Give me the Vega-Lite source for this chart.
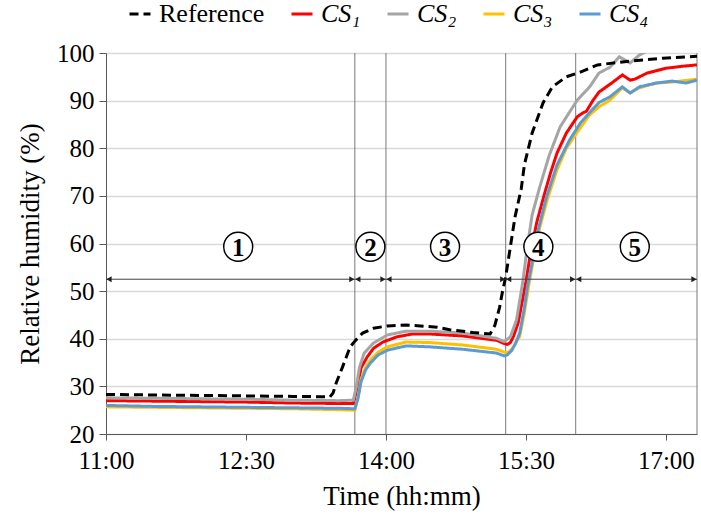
{
  "$schema": "https://vega.github.io/schema/vega-lite/v6.json",
  "width": 591,
  "height": 381,
  "autosize": {"type": "none"},
  "padding": {"left": 106, "top": 53, "right": 4, "bottom": 85},
  "background": "white",
  "config": {
    "view": {"stroke": null},
    "font": "Liberation Serif",
    "mark": {"invalid": null},
    "axis": {
      "labelFont": "Liberation Serif",
      "titleFont": "Liberation Serif",
      "labelColor": "#000000",
      "titleColor": "#000000",
      "titleFontWeight": "normal",
      "labelFontSize": 25,
      "titleFontSize": 27,
      "domainColor": "#595959",
      "tickColor": "#595959"
    }
  },
  "datasets": {
    "lines": [
      {"s": "CS₁", "t": "2020-01-01T11:00", "v": 27.0}, {"s": "CS₁", "t": "2020-01-01T11:30", "v": 26.9}, {"s": "CS₁", "t": "2020-01-01T12:00", "v": 26.8}, {"s": "CS₁", "t": "2020-01-01T12:30", "v": 26.7}, {"s": "CS₁", "t": "2020-01-01T13:00", "v": 26.5}, {"s": "CS₁", "t": "2020-01-01T13:30", "v": 26.4}, {"s": "CS₁", "t": "2020-01-01T13:39", "v": 26.4}, {"s": "CS₁", "t": "2020-01-01T13:42", "v": 30.3}, {"s": "CS₁", "t": "2020-01-01T13:44", "v": 33.9}, {"s": "CS₁", "t": "2020-01-01T13:48", "v": 36.2}, {"s": "CS₁", "t": "2020-01-01T13:52", "v": 38.0}, {"s": "CS₁", "t": "2020-01-01T13:58", "v": 39.3}, {"s": "CS₁", "t": "2020-01-01T14:07", "v": 40.4}, {"s": "CS₁", "t": "2020-01-01T14:17", "v": 41.0}, {"s": "CS₁", "t": "2020-01-01T14:28", "v": 41.0}, {"s": "CS₁", "t": "2020-01-01T14:49", "v": 40.6}, {"s": "CS₁", "t": "2020-01-01T15:11", "v": 39.7}, {"s": "CS₁", "t": "2020-01-01T15:16", "v": 39.0}, {"s": "CS₁", "t": "2020-01-01T15:18", "v": 38.8}, {"s": "CS₁", "t": "2020-01-01T15:20", "v": 39.2}, {"s": "CS₁", "t": "2020-01-01T15:22", "v": 40.5}, {"s": "CS₁", "t": "2020-01-01T15:25", "v": 43.3}, {"s": "CS₁", "t": "2020-01-01T15:28", "v": 48.5}, {"s": "CS₁", "t": "2020-01-01T15:30", "v": 52.0}, {"s": "CS₁", "t": "2020-01-01T15:33", "v": 58.0}, {"s": "CS₁", "t": "2020-01-01T15:37", "v": 64.5}, {"s": "CS₁", "t": "2020-01-01T15:42", "v": 70.5}, {"s": "CS₁", "t": "2020-01-01T15:46", "v": 75.0}, {"s": "CS₁", "t": "2020-01-01T15:50", "v": 79.0}, {"s": "CS₁", "t": "2020-01-01T15:56", "v": 83.2}, {"s": "CS₁", "t": "2020-01-01T16:03", "v": 86.6}, {"s": "CS₁", "t": "2020-01-01T16:06", "v": 87.3}, {"s": "CS₁", "t": "2020-01-01T16:09", "v": 87.8}, {"s": "CS₁", "t": "2020-01-01T16:13", "v": 90.0}, {"s": "CS₁", "t": "2020-01-01T16:17", "v": 91.8}, {"s": "CS₁", "t": "2020-01-01T16:26", "v": 93.9}, {"s": "CS₁", "t": "2020-01-01T16:32", "v": 95.4}, {"s": "CS₁", "t": "2020-01-01T16:37", "v": 94.3}, {"s": "CS₁", "t": "2020-01-01T16:40", "v": 94.5}, {"s": "CS₁", "t": "2020-01-01T16:48", "v": 95.8}, {"s": "CS₁", "t": "2020-01-01T17:00", "v": 96.8}, {"s": "CS₁", "t": "2020-01-01T17:10", "v": 97.2}, {"s": "CS₁", "t": "2020-01-01T17:20", "v": 97.5},
      {"s": "CS₂", "t": "2020-01-01T11:00", "v": 27.6}, {"s": "CS₂", "t": "2020-01-01T11:30", "v": 27.5}, {"s": "CS₂", "t": "2020-01-01T12:00", "v": 27.4}, {"s": "CS₂", "t": "2020-01-01T12:30", "v": 27.3}, {"s": "CS₂", "t": "2020-01-01T13:00", "v": 27.1}, {"s": "CS₂", "t": "2020-01-01T13:30", "v": 27.0}, {"s": "CS₂", "t": "2020-01-01T13:39", "v": 27.1}, {"s": "CS₂", "t": "2020-01-01T13:41", "v": 30.0}, {"s": "CS₂", "t": "2020-01-01T13:43", "v": 34.0}, {"s": "CS₂", "t": "2020-01-01T13:46", "v": 37.0}, {"s": "CS₂", "t": "2020-01-01T13:52", "v": 39.1}, {"s": "CS₂", "t": "2020-01-01T14:01", "v": 40.8}, {"s": "CS₂", "t": "2020-01-01T14:13", "v": 41.6}, {"s": "CS₂", "t": "2020-01-01T14:28", "v": 41.6}, {"s": "CS₂", "t": "2020-01-01T14:49", "v": 41.2}, {"s": "CS₂", "t": "2020-01-01T15:11", "v": 40.1}, {"s": "CS₂", "t": "2020-01-01T15:16", "v": 39.4}, {"s": "CS₂", "t": "2020-01-01T15:20", "v": 40.4}, {"s": "CS₂", "t": "2020-01-01T15:24", "v": 44.0}, {"s": "CS₂", "t": "2020-01-01T15:28", "v": 52.0}, {"s": "CS₂", "t": "2020-01-01T15:31", "v": 59.5}, {"s": "CS₂", "t": "2020-01-01T15:34", "v": 66.0}, {"s": "CS₂", "t": "2020-01-01T15:39", "v": 72.0}, {"s": "CS₂", "t": "2020-01-01T15:45", "v": 78.5}, {"s": "CS₂", "t": "2020-01-01T15:52", "v": 84.5}, {"s": "CS₂", "t": "2020-01-01T16:03", "v": 90.1}, {"s": "CS₂", "t": "2020-01-01T16:11", "v": 92.9}, {"s": "CS₂", "t": "2020-01-01T16:17", "v": 95.8}, {"s": "CS₂", "t": "2020-01-01T16:24", "v": 97.0}, {"s": "CS₂", "t": "2020-01-01T16:30", "v": 99.2}, {"s": "CS₂", "t": "2020-01-01T16:37", "v": 97.9}, {"s": "CS₂", "t": "2020-01-01T16:43", "v": 99.6}, {"s": "CS₂", "t": "2020-01-01T16:48", "v": 100.4}, {"s": "CS₂", "t": "2020-01-01T16:55", "v": 101.0}, {"s": "CS₂", "t": "2020-01-01T17:20", "v": 102.0},
      {"s": "CS₃", "t": "2020-01-01T11:00", "v": 25.7}, {"s": "CS₃", "t": "2020-01-01T11:30", "v": 25.6}, {"s": "CS₃", "t": "2020-01-01T12:00", "v": 25.5}, {"s": "CS₃", "t": "2020-01-01T12:30", "v": 25.4}, {"s": "CS₃", "t": "2020-01-01T13:00", "v": 25.3}, {"s": "CS₃", "t": "2020-01-01T13:30", "v": 25.1}, {"s": "CS₃", "t": "2020-01-01T13:40", "v": 25.0}, {"s": "CS₃", "t": "2020-01-01T13:42", "v": 27.5}, {"s": "CS₃", "t": "2020-01-01T13:44", "v": 31.5}, {"s": "CS₃", "t": "2020-01-01T13:47", "v": 34.0}, {"s": "CS₃", "t": "2020-01-01T13:50", "v": 35.5}, {"s": "CS₃", "t": "2020-01-01T13:55", "v": 37.2}, {"s": "CS₃", "t": "2020-01-01T14:01", "v": 38.3}, {"s": "CS₃", "t": "2020-01-01T14:13", "v": 39.3}, {"s": "CS₃", "t": "2020-01-01T14:28", "v": 39.2}, {"s": "CS₃", "t": "2020-01-01T14:49", "v": 38.7}, {"s": "CS₃", "t": "2020-01-01T15:11", "v": 37.8}, {"s": "CS₃", "t": "2020-01-01T15:16", "v": 37.2}, {"s": "CS₃", "t": "2020-01-01T15:18", "v": 37.0}, {"s": "CS₃", "t": "2020-01-01T15:20", "v": 37.5}, {"s": "CS₃", "t": "2020-01-01T15:22", "v": 38.3}, {"s": "CS₃", "t": "2020-01-01T15:26", "v": 40.5}, {"s": "CS₃", "t": "2020-01-01T15:29", "v": 45.5}, {"s": "CS₃", "t": "2020-01-01T15:32", "v": 51.5}, {"s": "CS₃", "t": "2020-01-01T15:35", "v": 57.0}, {"s": "CS₃", "t": "2020-01-01T15:39", "v": 63.5}, {"s": "CS₃", "t": "2020-01-01T15:44", "v": 69.5}, {"s": "CS₃", "t": "2020-01-01T15:50", "v": 75.5}, {"s": "CS₃", "t": "2020-01-01T15:56", "v": 80.0}, {"s": "CS₃", "t": "2020-01-01T16:03", "v": 83.4}, {"s": "CS₃", "t": "2020-01-01T16:11", "v": 87.0}, {"s": "CS₃", "t": "2020-01-01T16:17", "v": 88.7}, {"s": "CS₃", "t": "2020-01-01T16:24", "v": 90.1}, {"s": "CS₃", "t": "2020-01-01T16:32", "v": 92.7}, {"s": "CS₃", "t": "2020-01-01T16:37", "v": 91.6}, {"s": "CS₃", "t": "2020-01-01T16:43", "v": 92.7}, {"s": "CS₃", "t": "2020-01-01T16:54", "v": 93.7}, {"s": "CS₃", "t": "2020-01-01T17:04", "v": 93.9}, {"s": "CS₃", "t": "2020-01-01T17:20", "v": 94.5},
      {"s": "CS₄", "t": "2020-01-01T11:00", "v": 26.0}, {"s": "CS₄", "t": "2020-01-01T11:30", "v": 25.8}, {"s": "CS₄", "t": "2020-01-01T12:00", "v": 25.7}, {"s": "CS₄", "t": "2020-01-01T12:30", "v": 25.6}, {"s": "CS₄", "t": "2020-01-01T13:00", "v": 25.5}, {"s": "CS₄", "t": "2020-01-01T13:30", "v": 25.4}, {"s": "CS₄", "t": "2020-01-01T13:40", "v": 25.3}, {"s": "CS₄", "t": "2020-01-01T13:42", "v": 27.5}, {"s": "CS₄", "t": "2020-01-01T13:44", "v": 31.0}, {"s": "CS₄", "t": "2020-01-01T13:47", "v": 33.5}, {"s": "CS₄", "t": "2020-01-01T13:50", "v": 34.9}, {"s": "CS₄", "t": "2020-01-01T13:55", "v": 36.6}, {"s": "CS₄", "t": "2020-01-01T14:01", "v": 37.6}, {"s": "CS₄", "t": "2020-01-01T14:13", "v": 38.5}, {"s": "CS₄", "t": "2020-01-01T14:28", "v": 38.3}, {"s": "CS₄", "t": "2020-01-01T14:49", "v": 37.8}, {"s": "CS₄", "t": "2020-01-01T15:11", "v": 37.0}, {"s": "CS₄", "t": "2020-01-01T15:16", "v": 36.4}, {"s": "CS₄", "t": "2020-01-01T15:18", "v": 36.6}, {"s": "CS₄", "t": "2020-01-01T15:21", "v": 37.6}, {"s": "CS₄", "t": "2020-01-01T15:23", "v": 38.8}, {"s": "CS₄", "t": "2020-01-01T15:26", "v": 41.2}, {"s": "CS₄", "t": "2020-01-01T15:29", "v": 46.5}, {"s": "CS₄", "t": "2020-01-01T15:31", "v": 51.0}, {"s": "CS₄", "t": "2020-01-01T15:34", "v": 56.0}, {"s": "CS₄", "t": "2020-01-01T15:38", "v": 63.0}, {"s": "CS₄", "t": "2020-01-01T15:43", "v": 69.5}, {"s": "CS₄", "t": "2020-01-01T15:50", "v": 76.5}, {"s": "CS₄", "t": "2020-01-01T15:58", "v": 81.7}, {"s": "CS₄", "t": "2020-01-01T16:05", "v": 85.3}, {"s": "CS₄", "t": "2020-01-01T16:11", "v": 87.5}, {"s": "CS₄", "t": "2020-01-01T16:17", "v": 89.6}, {"s": "CS₄", "t": "2020-01-01T16:24", "v": 90.8}, {"s": "CS₄", "t": "2020-01-01T16:32", "v": 92.9}, {"s": "CS₄", "t": "2020-01-01T16:37", "v": 91.6}, {"s": "CS₄", "t": "2020-01-01T16:43", "v": 92.9}, {"s": "CS₄", "t": "2020-01-01T16:54", "v": 93.7}, {"s": "CS₄", "t": "2020-01-01T17:04", "v": 94.1}, {"s": "CS₄", "t": "2020-01-01T17:13", "v": 93.7}, {"s": "CS₄", "t": "2020-01-01T17:20", "v": 94.3},
      {"s": "Reference", "t": "2020-01-01T11:00", "v": 28.3}, {"s": "Reference", "t": "2020-01-01T11:30", "v": 28.2}, {"s": "Reference", "t": "2020-01-01T12:00", "v": 28.1}, {"s": "Reference", "t": "2020-01-01T12:30", "v": 28.0}, {"s": "Reference", "t": "2020-01-01T13:00", "v": 27.9}, {"s": "Reference", "t": "2020-01-01T13:24", "v": 27.8}, {"s": "Reference", "t": "2020-01-01T13:26", "v": 28.6}, {"s": "Reference", "t": "2020-01-01T13:28", "v": 30.7}, {"s": "Reference", "t": "2020-01-01T13:32", "v": 34.0}, {"s": "Reference", "t": "2020-01-01T13:37", "v": 38.3}, {"s": "Reference", "t": "2020-01-01T13:40", "v": 39.5}, {"s": "Reference", "t": "2020-01-01T13:45", "v": 41.2}, {"s": "Reference", "t": "2020-01-01T13:52", "v": 42.2}, {"s": "Reference", "t": "2020-01-01T14:01", "v": 42.7}, {"s": "Reference", "t": "2020-01-01T14:13", "v": 42.9}, {"s": "Reference", "t": "2020-01-01T14:22", "v": 42.7}, {"s": "Reference", "t": "2020-01-01T14:33", "v": 42.4}, {"s": "Reference", "t": "2020-01-01T14:41", "v": 41.9}, {"s": "Reference", "t": "2020-01-01T14:56", "v": 41.3}, {"s": "Reference", "t": "2020-01-01T15:07", "v": 41.0}, {"s": "Reference", "t": "2020-01-01T15:10", "v": 42.8}, {"s": "Reference", "t": "2020-01-01T15:13", "v": 46.5}, {"s": "Reference", "t": "2020-01-01T15:15", "v": 50.0}, {"s": "Reference", "t": "2020-01-01T15:17", "v": 53.0}, {"s": "Reference", "t": "2020-01-01T15:20", "v": 59.3}, {"s": "Reference", "t": "2020-01-01T15:23", "v": 65.6}, {"s": "Reference", "t": "2020-01-01T15:27", "v": 71.5}, {"s": "Reference", "t": "2020-01-01T15:29", "v": 76.5}, {"s": "Reference", "t": "2020-01-01T15:34", "v": 83.2}, {"s": "Reference", "t": "2020-01-01T15:41", "v": 89.5}, {"s": "Reference", "t": "2020-01-01T15:47", "v": 92.9}, {"s": "Reference", "t": "2020-01-01T15:56", "v": 95.0}, {"s": "Reference", "t": "2020-01-01T16:05", "v": 96.0}, {"s": "Reference", "t": "2020-01-01T16:16", "v": 97.5}, {"s": "Reference", "t": "2020-01-01T16:37", "v": 98.3}, {"s": "Reference", "t": "2020-01-01T16:58", "v": 98.9}, {"s": "Reference", "t": "2020-01-01T17:20", "v": 99.3}
    ],
    "bounds": [{"t": "2020-01-01T13:40"}, {"t": "2020-01-01T14:00"}, {"t": "2020-01-01T15:17"}, {"t": "2020-01-01T16:02"}, {"t": "2020-01-01T17:20"}],
    "phases": [
      {"t": "2020-01-01T11:00", "t2": "2020-01-01T13:40"},
      {"t": "2020-01-01T13:40", "t2": "2020-01-01T14:00"},
      {"t": "2020-01-01T14:00", "t2": "2020-01-01T15:17"},
      {"t": "2020-01-01T15:17", "t2": "2020-01-01T16:02"},
      {"t": "2020-01-01T16:02", "t2": "2020-01-01T17:20"}
    ],
    "labels": [
      {"t": "2020-01-01T12:25", "n": "1"},
      {"t": "2020-01-01T13:50", "n": "2"},
      {"t": "2020-01-01T14:38", "n": "3"},
      {"t": "2020-01-01T15:38", "n": "4"},
      {"t": "2020-01-01T16:40", "n": "5"}
    ]
  },
  "layer": [
    {
      "data": {"name": "bounds", "format": {"parse": {"t": "date"}}},
      "mark": {"type": "rule", "color": "#7A7A7A", "strokeWidth": 1},
      "encoding": {
        "x": {"field": "t", "type": "temporal", "title": "Time (hh:mm)"}
      }
    },
    {
      "data": {"name": "lines", "format": {"parse": {"t": "date"}}},
      "mark": {"type": "line", "strokeWidth": 3, "clip": true},
      "encoding": {
        "x": {
          "field": "t",
          "type": "temporal",
          "title": "Time (hh:mm)",
          "scale": {"domain": [
            {"year": 2020, "month": 1, "date": 1, "hours": 11, "minutes": 0},
            {"year": 2020, "month": 1, "date": 1, "hours": 17, "minutes": 20}
          ]},
          "axis": {
            "format": "%H:%M",
            "values": [
              {"year": 2020, "month": 1, "date": 1, "hours": 11, "minutes": 0},
              {"year": 2020, "month": 1, "date": 1, "hours": 12, "minutes": 30},
              {"year": 2020, "month": 1, "date": 1, "hours": 14, "minutes": 0},
              {"year": 2020, "month": 1, "date": 1, "hours": 15, "minutes": 30},
              {"year": 2020, "month": 1, "date": 1, "hours": 17, "minutes": 0}
            ],
            "grid": false,
            "tickSize": 6,
            "labelPadding": 8,
            "titlePadding": 10,
            "labelFlush": false
          }
        },
        "y": {
          "field": "v",
          "type": "quantitative",
          "title": "Relative humidity (%)",
          "scale": {"domain": [20, 100], "nice": false},
          "axis": {
            "values": [20, 30, 40, 50, 60, 70, 80, 90, 100],
            "grid": true,
            "gridColor": "#D9D9D9",
            "gridWidth": 1.5,
            "tickSize": 7,
            "labelPadding": 5,
            "titlePadding": 12
          }
        },
        "color": {
          "field": "s",
          "type": "nominal",
          "scale": {
            "domain": ["Reference", "CS₁", "CS₂", "CS₃", "CS₄"],
            "range": ["#000000", "#FF0000", "#A5A5A5", "#FFC000", "#5B9BD5"]
          },
          "legend": {
            "orient": "none",
            "legendX": 21,
            "legendY": -52,
            "direction": "horizontal",
            "columns": 5,
            "title": null,
            "symbolType": "stroke",
            "symbolSize": 441,
            "symbolStrokeWidth": 3,
            "labelFont": "Liberation Serif",
            "labelFontSize": 26,
            "labelColor": "#000000",
            "labelOffset": 6,
            "columnPadding": 20,
            "padding": 0,
            "labelLimit": 0,
            "encode": {
              "labels": {"update": {"fontStyle": {"signal": "datum.value === 'Reference' ? 'normal' : 'italic'"}}}
            }
          }
        },
        "strokeDash": {
          "field": "s",
          "type": "nominal",
          "scale": {
            "domain": ["Reference", "CS₁", "CS₂", "CS₃", "CS₄"],
            "range": [[9, 5], [1, 0], [1, 0], [1, 0], [1, 0]]
          }
        }
      }
    },
    {
      "data": {"name": "phases", "format": {"parse": {"t": "date", "t2": "date"}}},
      "mark": {"type": "rule", "color": "#404040", "strokeWidth": 1},
      "encoding": {
        "x": {"field": "t", "type": "temporal", "title": "Time (hh:mm)"},
        "x2": {"field": "t2"},
        "y": {"datum": 52.5}
      }
    },
    {
      "data": {"name": "phases", "format": {"parse": {"t": "date", "t2": "date"}}},
      "mark": {"type": "point", "shape": "triangle-left", "size": 36, "filled": true, "color": "#202020", "opacity": 1, "xOffset": 3},
      "encoding": {
        "x": {"field": "t", "type": "temporal", "title": "Time (hh:mm)"},
        "y": {"datum": 52.5}
      }
    },
    {
      "data": {"name": "bounds", "format": {"parse": {"t": "date"}}},
      "mark": {"type": "point", "shape": "triangle-right", "size": 36, "filled": true, "color": "#202020", "opacity": 1, "xOffset": -3},
      "encoding": {
        "x": {"field": "t", "type": "temporal", "title": "Time (hh:mm)"},
        "y": {"datum": 52.5}
      }
    },
    {
      "data": {"name": "labels", "format": {"parse": {"t": "date"}}},
      "mark": {"type": "point", "shape": "circle", "size": 841, "filled": true, "fill": "#FFFFFF", "stroke": "#000000", "strokeWidth": 1.5, "opacity": 1},
      "encoding": {
        "x": {"field": "t", "type": "temporal", "title": "Time (hh:mm)"},
        "y": {"datum": 59.3}
      }
    },
    {
      "data": {"name": "labels", "format": {"parse": {"t": "date"}}},
      "mark": {"type": "text", "font": "Liberation Serif", "fontSize": 25, "fontWeight": "bold", "color": "#000000", "align": "center", "baseline": "middle", "dy": 1},
      "encoding": {
        "x": {"field": "t", "type": "temporal", "title": "Time (hh:mm)"},
        "y": {"datum": 59.3},
        "text": {"field": "n"}
      }
    }
  ]
}
